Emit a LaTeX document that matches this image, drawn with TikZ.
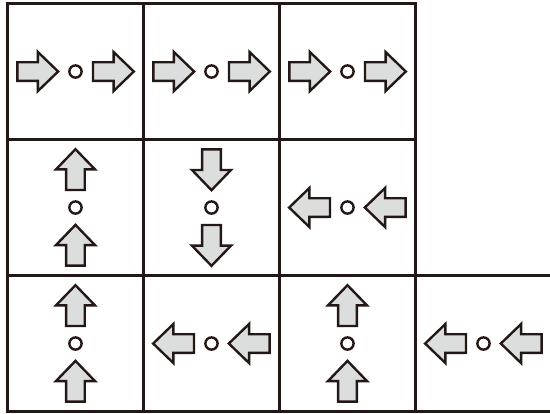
\documentclass[tikz,border=0pt]{standalone}
\usetikzlibrary{shapes.arrows}
\definecolor{inkdark}{HTML}{231815}
\definecolor{arrowgray}{HTML}{DCDDDD}
\tikzset{
  gridline/.style={draw=inkdark, line width=1.3pt, line cap=rect},
  flowarrow/.style={single arrow, draw=inkdark, fill=arrowgray, line width=1pt,
    inner sep=3.4pt, minimum height=0.6cm,
    single arrow head extend=0.15cm, single arrow tip angle=88, line join=miter},
  dotmark/.style={circle, draw=inkdark, line width=1pt, inner sep=0pt, minimum size=0.18cm}
}
\begin{document}
\begin{tikzpicture}[x=2cm, y=2cm]
\useasboundingbox (-0.055,-0.018) rectangle (3.989,3.026);

% Grid
\draw[gridline, step=2cm] (0,0) grid (3,3);
\draw[gridline] (3,0) -- (4.1,0);
\draw[gridline] (3,1) -- (4.1,1);

% Cells: x/y of centre / direction
\foreach \cx/\cy/\dir [count=\i] in {0.5/2.5/0, 1.5/2.5/0, 2.5/2.5/0,
    0.5/1.5/90, 1.5/1.5/270, 2.5/1.5/180,
    0.5/0.5/90, 1.5/0.5/180, 2.5/0.5/90, 3.5/0.5/180} {
  \node[dotmark] (dot\i) at (\cx,\cy) {};
  \node[flowarrow, rotate=\dir, anchor=tip] (tail\i) at ([shift={(\dir+180:0.115)}] dot\i.center) {};
  \node[flowarrow, rotate=\dir, anchor=tail] (head\i) at ([shift={(\dir:0.12)}] dot\i.center) {};
}

\end{tikzpicture}
\end{document}
